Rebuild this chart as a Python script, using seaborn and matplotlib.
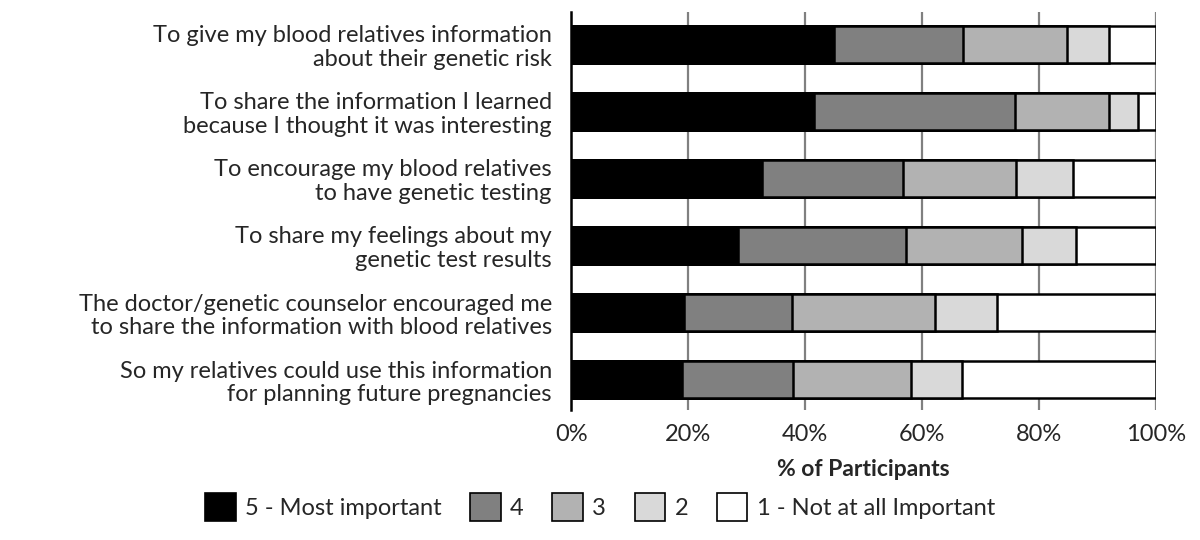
import numpy as np
import pandas as pd
import matplotlib
matplotlib.use("Agg")
import matplotlib.pyplot as plt
from matplotlib.patches import Patch
import seaborn as sns

# Reasons for sharing results (top to bottom)
reasons = [
    "To give my blood relatives information\nabout their genetic risk",
    "To share the information I learned\nbecause I thought it was interesting",
    "To encourage my blood relatives\nto have genetic testing",
    "To share my feelings about my\ngenetic test results",
    "The doctor/genetic counselor encouraged me\nto share the information with blood relatives",
    "So my relatives could use this information\nfor planning future pregnancies",
]

# % of participants per rating
r5 = [44.9, 41.5, 32.6, 28.5, 19.3, 19.0]
r4 = [22.2, 34.4, 24.2, 28.8, 18.5, 19.0]
r3 = [17.8, 16.1, 19.3, 19.8, 24.4, 20.2]
r2 = [7.1, 5.0, 9.7, 9.2, 10.7, 8.7]
r1 = [8.0, 3.0, 14.2, 13.7, 27.1, 33.1]

ratings = ["5 - Most important", "4", "3", "2", "1 - Not at all Important"]
colors = ["#000000", "#808080", "#b2b2b2", "#d9d9d9", "#ffffff"]

df = pd.DataFrame({"reason": reasons, "5": r5, "4": r4, "3": r3, "2": r2, "1": r1})
cum = df[["5", "4", "3", "2", "1"]].cumsum(axis=1)

sns.set_style("white")
plt.rcParams["font.family"] = ["Lato", "DejaVu Sans"]

fig = plt.figure(figsize=(12, 5.4), dpi=100)
ax = fig.add_axes([0.476, 0.241, 0.487, 0.737])

# overlay cumulative bars, widest first
for col, c in zip(reversed(["5", "4", "3", "2", "1"]), reversed(colors)):
    sns.barplot(x=cum[col], y=df["reason"], orient="h", color=c, width=0.55,
                edgecolor="black", linewidth=1.8, saturation=1, ax=ax, zorder=3)

ax.set_xlim(0, 100)
ax.set_ylim(5.45, -0.48)
ax.set_xticks([0, 20, 40, 60, 80, 100])
ax.set_xticklabels(["0%", "20%", "40%", "60%", "80%", "100%"], fontsize=17)
ax.tick_params(axis="y", labelsize=17, length=0, pad=14)
ax.tick_params(axis="x", length=0, pad=10)
ax.set_ylabel("")
ax.set_xlabel("% of Participants", fontsize=16.5, fontweight="bold", labelpad=10)
ax.xaxis.grid(True, color="#808080", linewidth=1.6, zorder=0)
ax.yaxis.grid(False)
for s in ["top", "right", "bottom"]:
    ax.spines[s].set_visible(False)
ax.spines["left"].set_color("black")
ax.spines["left"].set_linewidth(1.8)
for lbl in ax.get_yticklabels():
    lbl.set_horizontalalignment("right")
    lbl.set_multialignment("right")
    lbl.set_linespacing(1.15)

handles = [Patch(facecolor=c, edgecolor="black", linewidth=1.2) for c in colors]
fig.legend(handles, ratings, loc="lower center", bbox_to_anchor=(0.5, -0.005), ncol=5,
           frameon=False, fontsize=17, handlelength=1.3, handleheight=1.5,
           handletextpad=0.4, columnspacing=1.2)

fig.savefig("out.png", dpi=100)
